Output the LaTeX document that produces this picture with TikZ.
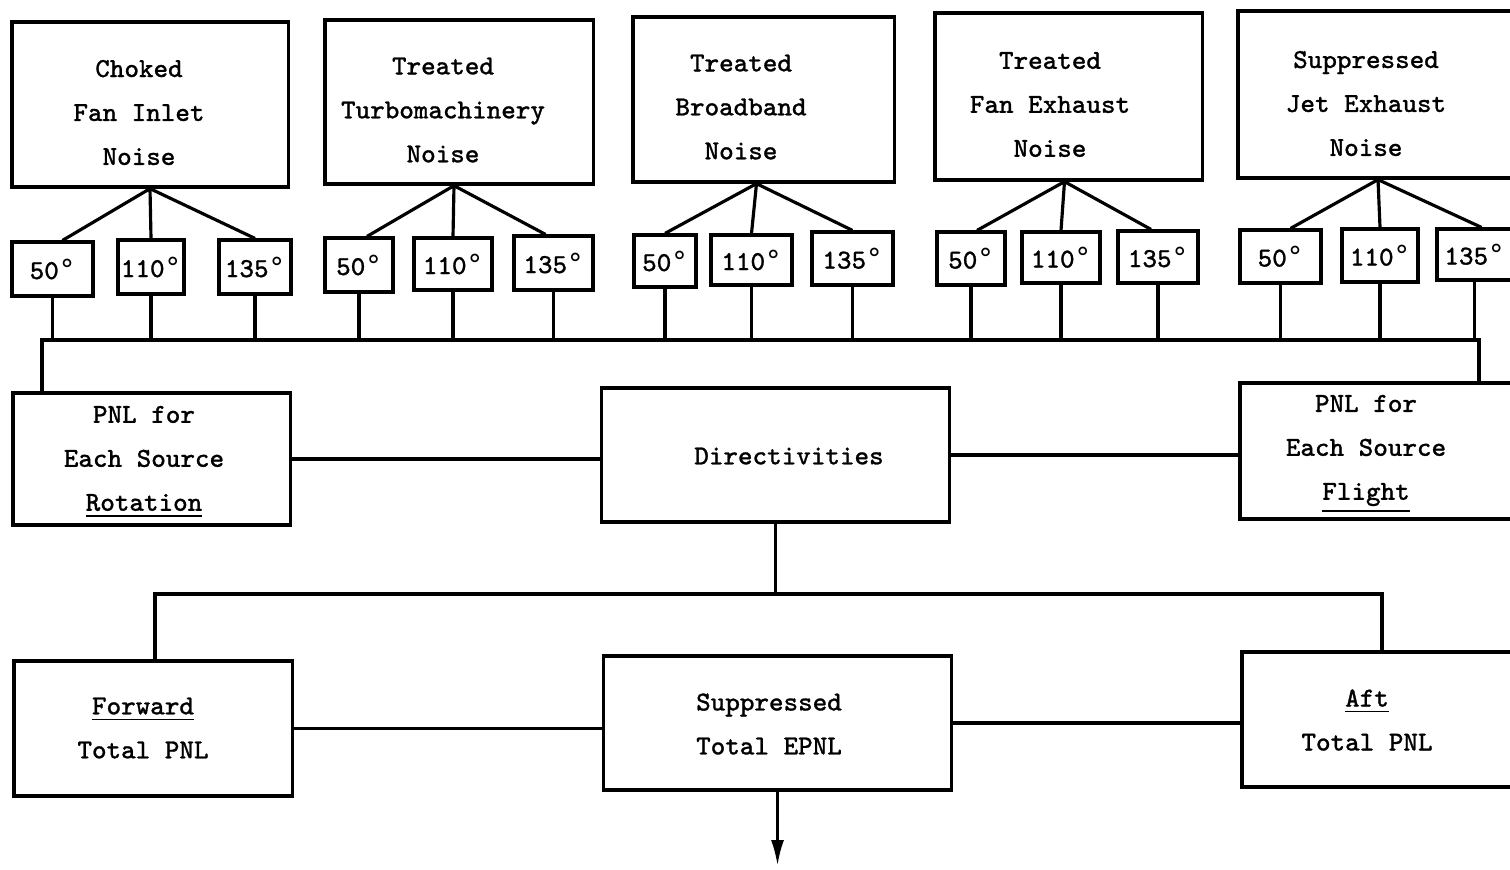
\documentclass[tikz,border=0pt]{standalone}
\usepackage{fontspec}
\newfontfamily\tw{Latin Modern Mono}[FakeBold=1.0]
\newfontfamily\dgf{DejaVu Sans Mono}
\newcommand{\dg}{{\dgf °}}
\usetikzlibrary{arrows.meta,calc}
\begin{document}
\begin{tikzpicture}[x=0.01cm,y=-0.01cm,
  every node/.style={font=\tw\fontsize{7.8}{12.5}\selectfont},
  box/.style={draw,line width=0.9pt,inner sep=0pt},
  txt/.style={inner sep=0pt,align=center},
  ang/.style={draw,line width=0.9pt,inner sep=0pt,align=center},
  wire/.style={line width=0.9pt}]
\useasboundingbox (0,0) rectangle (1510,869);
% top source boxes
\node[box,minimum width=2.76cm,minimum height=1.65cm] (b1) at (150,104.5) {};
\node[txt] (t1) at (139,112.5) {Choked\\Fan Inlet\\Noise};
\node[box,minimum width=2.68cm,minimum height=1.64cm] (b2) at (459,102) {};
\node[txt] (t2) at (443,110) {Treated\\Turbomachinery\\Noise};
\node[box,minimum width=2.61cm,minimum height=1.65cm] (b3) at (763.5,99.5) {};
\node[txt] (t3) at (741,107) {Treated\\Broadband\\Noise};
\node[box,minimum width=2.67cm,minimum height=1.67cm] (b4) at (1068.5,96.5) {};
\node[txt] (t4) at (1050,104.5) {Treated\\Fan Exhaust\\Noise};
\node[box,minimum width=2.80cm,minimum height=1.67cm] (b5) at (1378,94.5) {};
\node[txt] (t5) at (1366,103.5) {Suppressed\\Jet Exhaust\\Noise};
% angle boxes
\node[ang,minimum width=0.81cm,minimum height=0.54cm] (a11) at (52.5,269) {50\dg};
\node[ang,minimum width=0.66cm,minimum height=0.54cm] (a12) at (151,267) {110\dg};
\node[ang,minimum width=0.72cm,minimum height=0.54cm] (a13) at (255,267) {135\dg};
\node[ang,minimum width=0.68cm,minimum height=0.54cm] (a21) at (359,265) {50\dg};
\node[ang,minimum width=0.78cm,minimum height=0.52cm] (a22) at (453,264) {110\dg};
\node[ang,minimum width=0.79cm,minimum height=0.54cm] (a23) at (553.5,263) {135\dg};
\node[ang,minimum width=0.62cm,minimum height=0.52cm] (a31) at (665,261) {50\dg};
\node[ang,minimum width=0.81cm,minimum height=0.50cm] (a32) at (751.5,260) {110\dg};
\node[ang,minimum width=0.81cm,minimum height=0.53cm] (a33) at (852.5,258.5) {135\dg};
\node[ang,minimum width=0.68cm,minimum height=0.53cm] (a41) at (971,258.5) {50\dg};
\node[ang,minimum width=0.78cm,minimum height=0.51cm] (a42) at (1061,257.5) {110\dg};
\node[ang,minimum width=0.80cm,minimum height=0.52cm] (a43) at (1158,257) {135\dg};
\node[ang,minimum width=0.81cm,minimum height=0.53cm] (a51) at (1280.5,256.5) {50\dg};
\node[ang,minimum width=0.76cm,minimum height=0.53cm] (a52) at (1380,255.5) {110\dg};
\node[ang,minimum width=0.75cm,minimum height=0.51cm] (a53) at (1474.5,254.5) {135\dg};
% fans
\draw[wire] ([xshift=0.1cm]a11.north) -- (b1.south) -- (a12.north);
\draw[wire] (b1.south) -- (a13.north);
\draw[wire] ([xshift=0.08cm]a21.north) -- ([xshift=-0.05cm]b2.south) -- (a22.north);
\draw[wire] ([xshift=-0.05cm]b2.south) -- ([xshift=-0.08cm]a23.north);
\draw[wire] (a31.north) -- ([xshift=-0.07cm]b3.south) -- (a32.north);
\draw[wire] ([xshift=-0.07cm]b3.south) -- (a33.north);
\draw[wire] ([xshift=0.06cm]a41.north) -- ([xshift=-0.04cm]b4.south) -- (a42.north);
\draw[wire] ([xshift=-0.04cm]b4.south) -- ([xshift=-0.07cm]a43.north);
\draw[wire] ([xshift=0.1cm]a51.north) -- (b5.south) -- (a52.north);
\draw[wire] (b5.south) -- ([xshift=0.07cm]a53.north);
% middle row
\node[box,minimum width=2.77cm,minimum height=1.32cm] (rot) at (151.5,459) {};
\node[txt] (trot) at (144,462) {PNL for\\Each Source\\\underline{Rotation}};
\node[box,minimum width=3.47cm,minimum height=1.34cm] (dir) at (775.5,455) {};
\node[txt] (tdir) at (789,456) {Directivities};
\node[box,minimum width=2.72cm,minimum height=1.36cm] (flt) at (1376,451) {};
\node[txt] (tflt) at (1366,454) {PNL for\\Each Source\\\underline{Flight}};
% bus 1
\coordinate (busL) at (42,340);
\coordinate (busR) at (1479,340);
\foreach \a in {a11,a12,a13,a21,a22,a23,a31,a32,a33,a41,a42,a43,a51,a52,a53}
  \draw[wire] (\a.south) -- (\a.south |- busL);
\draw[wire] (rot.north -| busL) -- (busL) -- (busR) -- (flt.north -| busR);
\draw[wire] (rot.east) -- (rot.east -| dir.west);
\draw[wire] (dir.east) -- (dir.east -| flt.west);
% bottom row
\node[box,minimum width=2.78cm,minimum height=1.35cm] (fwd) at (153,728.5) {};
\node[txt] (tfwd) at (143,728) {\underline{Forward}\\Total PNL};
\node[box,minimum width=3.47cm,minimum height=1.34cm] (sup) at (777.5,723) {};
\node[txt] (tsup) at (769,724) {Suppressed\\Total EPNL};
\node[box,minimum width=2.70cm,minimum height=1.35cm] (aft) at (1377,719.5) {};
\node[txt] (taft) at (1367,720) {\underline{Aft}\\Total PNL};
\coordinate (bus2L) at (155,594);
\coordinate (bus2R) at (1382,594);
\draw[wire] (dir.south) -- (dir.south |- bus2L);
\draw[wire] (fwd.north -| bus2L) -- (bus2L) -- (bus2R) -- (aft.north -| bus2R);
\draw[wire] (fwd.east) -- (fwd.east -| sup.west);
\draw[wire] (sup.east) -- (sup.east -| aft.west);
\coordinate (out) at (777,866);
\draw[wire,-{Latex[length=2.6mm,width=1.3mm]}] (sup.south) -- (sup.south |- out);
\end{tikzpicture}
\end{document}
